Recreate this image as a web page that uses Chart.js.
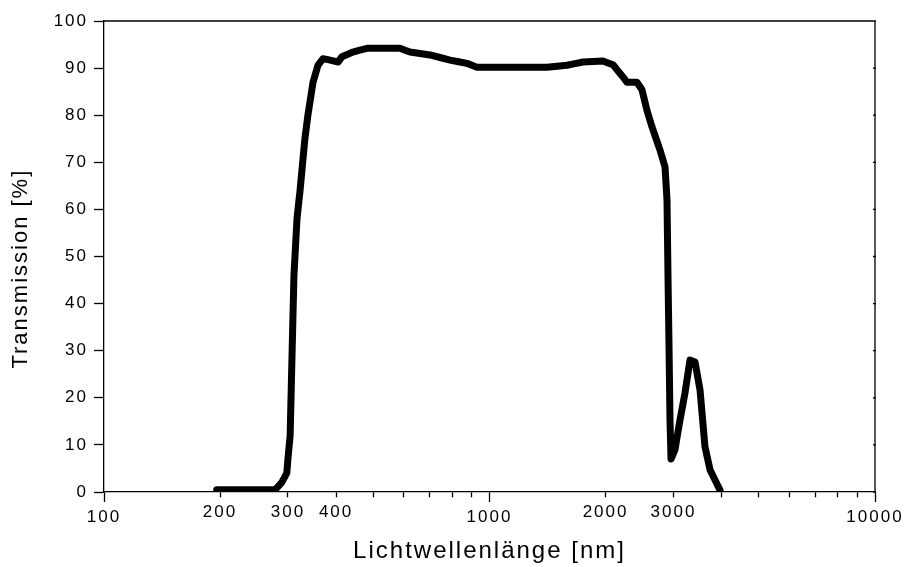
<!DOCTYPE html>
<html>
<head>
<meta charset="utf-8">
<script src="https://cdn.jsdelivr.net/npm/chart.js@4.4.0/dist/chart.umd.min.js"></script>
<style>
  html, body { margin: 0; padding: 0; background: #fff; }
  #wrap { width: 904px; height: 567px; }
</style>
</head>
<body>
<div id="wrap"><canvas id="myChart" width="904" height="567"></canvas></div>
<script>
// values
const wavelengths = [196, 278, 289, 298, 300, 304, 306.4, 309.3, 311, 316.7, 322.5, 332, 338, 348.5, 359, 370, 386, 405, 414, 442, 481, 586, 622, 701, 790, 874, 928, 1410, 1589, 1748, 1970, 2092, 2220, 2274, 2413, 2486, 2562, 2640, 2769, 2853, 2887, 2904, 2922, 2939, 2957, 3028, 3120, 3214, 3312, 3413, 3516, 3622, 3733, 3962]
const transmission = [0.5, 0.5, 2, 4, 7, 12, 24, 38, 46, 58, 64, 75, 80, 87, 90.6, 92, 91.7, 91.3, 92.4, 93.4, 94.2, 94.2, 93.4, 92.8, 91.7, 91, 90.2, 90.2, 90.6, 91.3, 91.5, 90.7, 88.1, 87, 87, 85.4, 81, 77.5, 72.6, 69, 62, 46, 30.8, 15.3, 7, 9, 15.3, 21, 28, 27.6, 21.7, 9.6, 4.7, 0.4]

// tick marks on the x axis, and which of them carry a label
const xTicks = [100, 200, 300, 400, 500, 600, 700, 800, 900, 1000, 2000, 3000, 4000, 5000, 6000, 7000, 8000, 9000, 10000]
const xLabels = [100, 200, 300, 400, 1000, 2000, 3000, 10000]
const xDecades = [100, 1000, 10000]

const FONT = "'Liberation Sans', Arial, sans-serif"

function isDecade(ctx) {
    return ctx.tick && xDecades.includes(ctx.tick.value)
}

// extra frame: top line, right line with its small ticks
const framePlugin = {
    id: 'frame',
    beforeLayout(chart) {
        chart.ctx.letterSpacing = '2px'
    },
    beforeDraw(chart) {
        chart.ctx.letterSpacing = '2px'
    },
    afterDraw(chart) {
        const { ctx, chartArea } = chart
        const yScale = chart.scales.y
        ctx.save()
        ctx.strokeStyle = '#000'
        ctx.lineWidth = 1.3
        ctx.beginPath()
        ctx.moveTo(chartArea.left, chartArea.top)
        ctx.lineTo(chartArea.right, chartArea.top)
        ctx.moveTo(chartArea.right, chartArea.top)
        ctx.lineTo(chartArea.right, chartArea.bottom)
        yScale.ticks.forEach(t => {
            const py = yScale.getPixelForValue(t.value)
            ctx.moveTo(chartArea.right - 2, py)
            ctx.lineTo(chartArea.right + 1, py)
        })
        ctx.stroke()
        ctx.restore()
    }
}

new Chart("myChart", {
    type: "line",
    data: {
        datasets: [{
            data: wavelengths.map((w, i) => ({ x: w, y: transmission[i] })),
            borderColor: '#000',
            borderWidth: 7,
            pointRadius: 0,
            // tiny tension so the normal path is used, not the per-pixel fast path
            tension: 0.0001,
            borderJoinStyle: 'round',
            borderCapStyle: 'round'
        }]
    },
    options: {
        responsive: false,
        animation: false,
        layout: { padding: { left: 0, right: 29, top: 21, bottom: 0 } },
        plugins: {
            legend: { display: false },
            tooltip: { enabled: false }
        },
        scales: {
            x: {
                type: 'logarithmic',
                position: 'bottom',
                min: 100,
                max: 10000,
                afterBuildTicks: scale => {
                    scale.ticks = xTicks.map(v => ({ value: v }))
                },
                afterFit: scale => { scale.height = 75 },
                border: { display: true, color: '#000', width: 1.3 },
                grid: {
                    drawOnChartArea: false,
                    drawTicks: true,
                    tickLength: 10,
                    tickColor: '#000',
                    tickWidth: 1.3,
                    tickBorderDash: ctx => isDecade(ctx) ? [] : [5, 100]
                },
                ticks: {
                    autoSkip: false,
                    maxRotation: 0,
                    padding: 0,
                    color: '#000',
                    font: ctx => ({ family: FONT, size: 17, lineHeight: isDecade(ctx) ? 31 / 17 : 1.2 }),
                    callback: value => xLabels.includes(value) ? String(value) : ''
                },
                title: {
                    display: true,
                    text: 'Lichtwellenlänge [nm]',
                    color: '#000',
                    font: { family: FONT, size: 24 },
                    padding: { top: 0, bottom: 1 }
                }
            },
            y: {
                min: 0,
                max: 100,
                afterFit: scale => { scale.width = 104 },
                border: { display: true, color: '#000', width: 1.3 },
                grid: {
                    drawOnChartArea: false,
                    tickLength: 10,
                    tickColor: '#000',
                    tickWidth: 1.3
                },
                ticks: {
                    stepSize: 10,
                    padding: 6,
                    color: '#000',
                    font: { family: FONT, size: 17 }
                },
                title: {
                    display: true,
                    text: 'Transmission [%]   ',
                    color: '#000',
                    font: { family: FONT, size: 22 },
                    padding: { top: 8, bottom: 0 }
                }
            }
        }
    },
    plugins: [framePlugin]
});
</script>
</body>
</html>
